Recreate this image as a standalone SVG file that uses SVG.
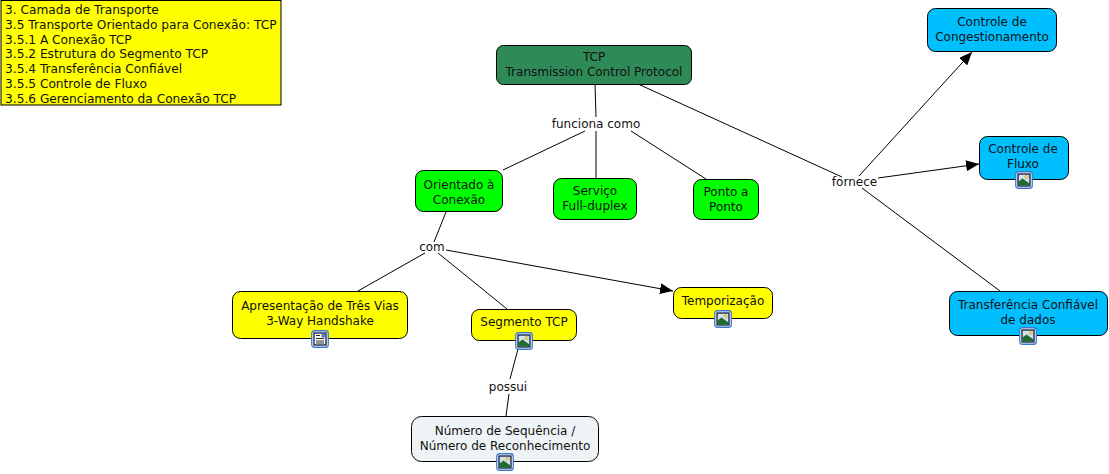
<svg xmlns="http://www.w3.org/2000/svg" width="1109" height="474" viewBox="0 0 1109 474">
<style>
text{font-family:"DejaVu Sans",Verdana,sans-serif;font-size:12px;fill:#111;text-anchor:middle}
.box{stroke:#000;stroke-width:1}
.dark{fill:#2e8b57}.blue{fill:#00bfff}.green{fill:#00ff00}.yellow{fill:#ffff00}.pale{fill:#eef4f6}
.c{fill:none;stroke:#000;stroke-width:1}
text.lg{text-anchor:start;font-size:12.2px}
</style>
<defs>
<marker id="arrow" markerUnits="userSpaceOnUse" markerWidth="14" markerHeight="12" refX="13" refY="5.500" orient="auto"><path d="M0,0L13,5.500L0,11Z" fill="#000"/></marker>
<symbol id="img" width="18" height="18" viewBox="0 0 18 18"><rect x=".75" y=".75" width="16.500" height="16.500" rx="2.500" fill="#fff" stroke="#3f78c8" stroke-width="1.300"/><rect x="3" y="3" width="12" height="12" fill="#d5e2ee" stroke="#0c1c3c" stroke-width="1.300"/><circle cx="11.500" cy="6" r="1.600" fill="#f3e27a" stroke="#a08a30" stroke-width=".5"/><path d="M3.500,14.500V10.500L7.500,7.500L14.500,12.500V14.500Z" fill="#1f6b30"/></symbol>
<symbol id="doc" width="18" height="18" viewBox="0 0 18 18"><rect x=".75" y=".75" width="16.500" height="16.500" rx="2.500" fill="#fff" stroke="#3f78c8" stroke-width="1.300"/><rect x="3" y="3" width="12" height="12" fill="#fff" stroke="#0c1c3c" stroke-width="1.300"/><rect x="10.500" y="4" width="3.500" height="3.500" fill="#5b7fb8"/><path d="M5,5.500H9M5,8.500H13M5,11H13M5,13H13" stroke="#111" stroke-width=".9"/></symbol>
</defs>
<g id="connectors">
<path class="c" d="M595,84L596,117"/>
<path class="c" d="M585,131L503,170"/>
<path class="c" d="M596,131L596,178"/>
<path class="c" d="M631,131L706,179"/>
<path class="c" d="M638,84L842,177"/>
<path class="c" d="M859,176L972,52" marker-end="url(#arrow)"/>
<path class="c" d="M878,178L979,164" marker-end="url(#arrow)"/>
<path class="c" d="M862,188L1000,291"/>
<path class="c" d="M446,212L434,242"/>
<path class="c" d="M425,253L358,291"/>
<path class="c" d="M438,253L507,309"/>
<path class="c" d="M446,250L673,291" marker-end="url(#arrow)"/>
<path class="c" d="M518,349L510,379"/>
<path class="c" d="M509,394L506,416"/>
</g>
<g id="legend"><rect class="box yellow" x="1" y="0.500" width="280" height="104.500"/>
<text class="lg" x="5" y="14">3. Camada de Transporte</text>
<text class="lg" x="5" y="29">3.5 Transporte Orientado para Conexão: TCP</text>
<text class="lg" x="5" y="44">3.5.1 A Conexão TCP</text>
<text class="lg" x="5" y="58">3.5.2 Estrutura do Segmento TCP</text>
<text class="lg" x="5" y="73">3.5.4 Transferência Confiável</text>
<text class="lg" x="5" y="88">3.5.5 Controle de Fluxo</text>
<text class="lg" x="5" y="102.500">3.5.6 Gerenciamento da Conexão TCP</text></g>
<g id="tcp"><rect class="box dark" x="496.500" y="45.500" width="195" height="39" rx="7"/><text x="594" y="61">TCP</text><text x="594" y="76">Transmission Control Protocol</text></g>
<g id="congestionamento"><rect class="box blue" x="927.500" y="8.500" width="129" height="43" rx="8"/><text x="992" y="26">Controle de</text><text x="992" y="41">Congestionamento</text></g>
<g id="fluxo"><rect class="box blue" x="979.500" y="136.500" width="89" height="43" rx="8"/><text x="1023" y="153">Controle de</text><text x="1023" y="168">Fluxo</text><use href="#img" x="1015" y="171"/></g>
<g id="transferencia"><rect class="box blue" x="949.500" y="291.500" width="158" height="44" rx="8"/><text x="1028" y="309">Transferência Confiável</text><text x="1028" y="324">de dados</text><use href="#img" x="1019" y="327"/></g>
<g id="orientado"><rect class="box green" x="415.500" y="170.500" width="87" height="41" rx="8"/><text x="459" y="189">Orientado à</text><text x="459" y="204">Conexão</text></g>
<g id="servico"><rect class="box green" x="553.500" y="178.500" width="83" height="41" rx="8"/><text x="595" y="195">Serviço</text><text x="595" y="210">Full-duplex</text></g>
<g id="ponto"><rect class="box green" x="693.500" y="179.500" width="65" height="40" rx="8"/><text x="726" y="196">Ponto a</text><text x="726" y="211">Ponto</text></g>
<g id="apresentacao"><rect class="box yellow" x="232.500" y="291.500" width="175" height="47" rx="8"/><text x="320" y="310">Apresentação de Três Vias</text><text x="320" y="325">3-Way Handshake</text><use href="#doc" x="311" y="330"/></g>
<g id="segmento"><rect class="box yellow" x="471.500" y="309.500" width="105" height="31" rx="8"/><text x="524" y="326">Segmento TCP</text><use href="#img" x="515" y="332"/></g>
<g id="temporizacao"><rect class="box yellow" x="673.500" y="287.500" width="99" height="31" rx="8"/><text x="723" y="305">Temporização</text><use href="#img" x="714" y="310"/></g>
<g id="numero"><rect class="box pale" x="411.500" y="416.500" width="187" height="45" rx="10"/><text x="505" y="435">Número de Sequência /</text><text x="505" y="450">Número de Reconhecimento</text><use href="#img" x="496" y="453"/></g>
<g id="labels"><text x="596" y="128">funciona como</text><text x="854.500" y="186">fornece</text><text x="432" y="251">com</text><text x="508" y="391">possui</text></g>
</svg>
